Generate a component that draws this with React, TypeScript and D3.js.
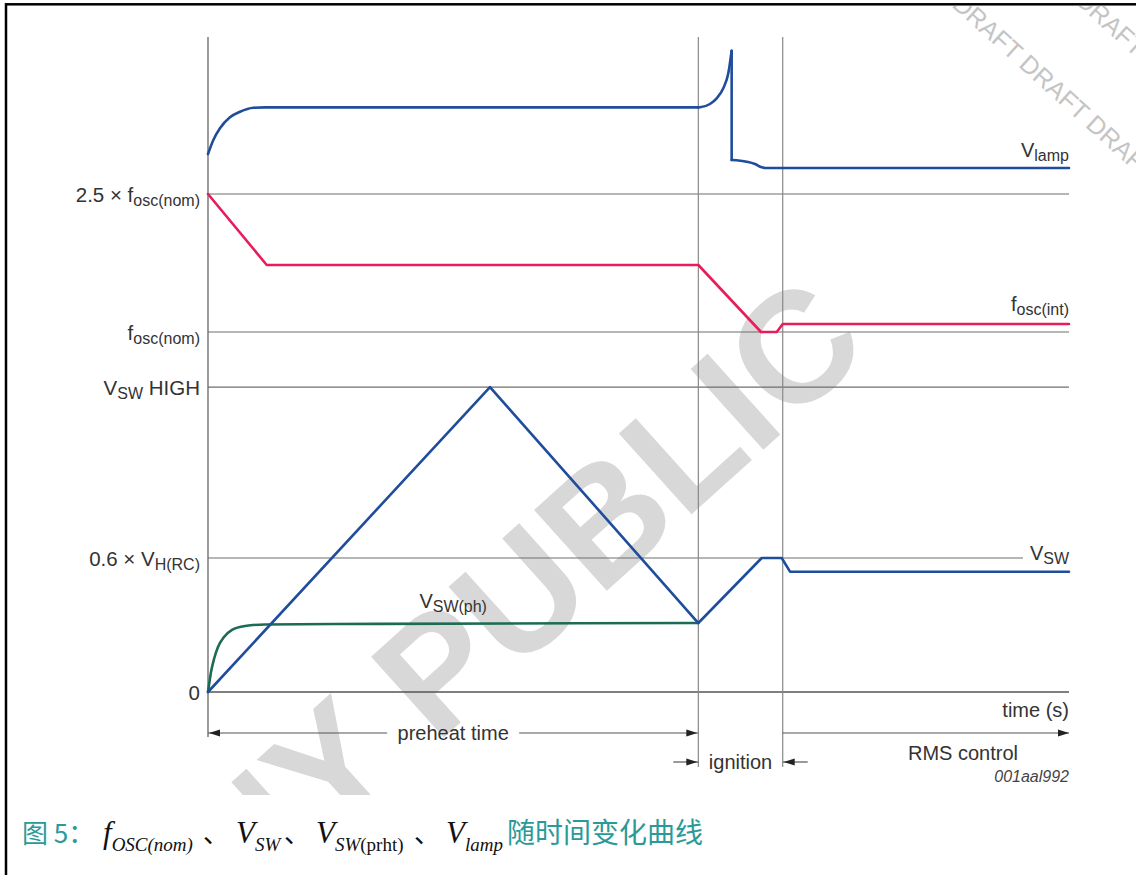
import React from 'react';
import * as d3 from 'd3';

type Pt = [number, number];

// time axis in arbitrary units: start, end of preheat, end of ignition, end
const phaseEdges = [0, 56.95, 66.75, 100];
const phaseNames = ['preheat time', 'ignition', 'RMS control'];

// horizontal reference levels (arbitrary units, 0 = time axis)
const refLevels = [76.03, 54.96, 46.56, 20.46, 0];
const refLabels: [string, string, string][] = [
  ['2.5 × f', 'osc(nom)', ''],
  ['f', 'osc(nom)', ''],
  ['V', 'SW', ' HIGH'],
  ['0.6 × V', 'H(RC)', ''],
  ['0', '', ''],
];

// V_lamp, split where it jumps
const vlampPreheat: Pt[] = [[0, 82.14], [0.62, 84.27], [1.39, 86.06], [2.55, 87.74], [3.72, 88.59], [5.26, 89.2], [6.62, 89.26], [56.95, 89.26]];
const vlampIgnite: Pt[] = [[56.95, 89.26], [57.14, 89.28], [58.3, 89.77], [59.08, 90.64], [59.85, 92.17], [60.43, 94.45], [60.82, 97.91]];
const vlampDrop: Pt[] = [[60.82, 97.91], [60.82, 81.22]];
const vlampRun: Pt[] = [[60.82, 81.22], [62.56, 80.96], [63.53, 80.61], [64.31, 80.1], [64.8, 80.0], [100, 80.0]];

const foscInt: Pt[] = [[0, 76.03], [6.82, 65.19], [56.95, 65.19], [64.23, 54.96], [66.05, 54.96], [66.75, 56.18], [100, 56.18]];
const vsw: Pt[] = [[0, 0], [32.75, 46.56], [56.95, 10.53], [64.31, 20.46], [66.63, 20.46], [67.6, 18.37], [100, 18.37]];
const vswPh: Pt[] = [[0, 0], [0.12, 1.07], [0.35, 3.05], [0.7, 5.04], [1.16, 6.87], [1.86, 8.4], [2.79, 9.47], [4.3, 10.08], [6.62, 10.31], [20, 10.4], [56.95, 10.53]];

const BLUE = '#1f4d9b';
const PINK = '#e81c5b';
const GREEN = '#1b6b55';
const GRID = '#6e6e6e';
const TEXT = '#333';
const TEAL = '#2a9a98';
const SANS = '"Liberation Sans", Arial, Helvetica, sans-serif';
const SERIF = '"Liberation Serif", "Times New Roman", serif';
const CJK = '"Noto Sans CJK SC", sans-serif';

const W = 1136;
const H = 875;

const x = d3.scaleLinear().domain([0, 100]).range([208, 1069]);
const y = d3.scaleLinear().domain([0, 100]).range([692, 37]);

const smooth = d3.line<Pt>().x(d => x(d[0])).y(d => y(d[1])).curve(d3.curveMonotoneX);
const straight = d3.line<Pt>().x(d => x(d[0])).y(d => y(d[1]));

// filled arrow head, tip at (tx, ty), dir +1 = pointing right
const arrow = (tx: number, ty: number, dir: number) => {
  const len = 11;
  const hw = 3.5;
  return `M${tx},${ty}L${tx - dir * len},${ty - hw}L${tx - dir * len},${ty + hw}Z`;
};

const Sub: React.FC<{ main: string; sub: string; tail?: string; size?: number; subSize?: number }> = ({ main, sub, tail, size = 20, subSize = 16 }) => (
  <>
    <tspan fontSize={size}>{main}</tspan>
    {sub && <tspan fontSize={subSize} dy={4}>{sub}</tspan>}
    {tail && <tspan fontSize={size} dy={sub ? -4 : 0}>{tail}</tspan>}
  </>
);

const App: React.FC = () => {
  const xs = phaseEdges.map(v => x(v));
  const xEnd = x(100);
  const lastY = (s: Pt[]) => y(s[s.length - 1][1]);

  const preheatY = 733;
  const ignY = 762;
  const preheatMid = (xs[0] + xs[1]) / 2;
  const gapHalf = 66;

  return (
    <svg width={W} height={H} style={{ position: 'absolute', left: 0, top: 0, background: '#fff' }}>
      <defs>
        <clipPath id="wm">
          <rect x={7} y={6} width={W - 7} height={789} />
        </clipPath>
      </defs>

      {/* watermarks */}
      <g clipPath="url(#wm)">
        <text
          transform="translate(873,351) rotate(-42)"
          textAnchor="end"
          fontFamily={SANS}
          fontWeight="bold"
          fontSize={158}
          fill="#d8d8d8"
        >
          COMPANY PUBLIC
        </text>
        <text transform="translate(951,6) rotate(42)" fontFamily={SANS} fontSize={25} fill="#c4c4c4">
          DRAFT DRAFT DRAFT DRAFT
        </text>
        <text transform="translate(1074,2) rotate(42)" fontFamily={SANS} fontSize={25} fill="#c4c4c4">
          DRAFT DRAFT DRAFT DRAFT
        </text>
      </g>

      {/* frame */}
      <rect x={6} y={4.3} width={W + 20} height={H + 20} fill="none" stroke="#000" strokeWidth={2.5} />

      {/* reference levels */}
      {refLevels.map((lv, i) => {
        const yy = y(lv);
        const isAxis = lv === 0;
        // the 0.6 x VH(RC) line stops before the V_SW label
        const x2 = i === 3 ? xEnd - 46 : xEnd;
        return (
          <line
            key={'lv' + i}
            x1={xs[0]}
            x2={x2}
            y1={yy}
            y2={yy}
            stroke={isAxis ? '#555' : GRID}
            strokeWidth={isAxis ? 1.7 : 1.2}
          />
        );
      })}

      {/* phase boundaries */}
      <line x1={xs[0]} x2={xs[0]} y1={y(100)} y2={preheatY + 4} stroke="#666" strokeWidth={1.3} />
      <line x1={xs[1]} x2={xs[1]} y1={y(100)} y2={ignY + 5} stroke="#888" strokeWidth={1.2} />
      <line x1={xs[2]} x2={xs[2]} y1={y(100)} y2={ignY + 5} stroke="#888" strokeWidth={1.2} />

      {/* level labels */}
      {refLabels.map((lb, i) => (
        <text key={'lb' + i} x={200} y={y(refLevels[i]) + 8} textAnchor="end" fontFamily={SANS} fill={TEXT}>
          <Sub main={lb[0]} sub={lb[1]} tail={lb[2]} size={20.5} />
        </text>
      ))}

      {/* curves */}
      <g fill="none" strokeWidth={2.6} strokeLinejoin="round" strokeLinecap="round">
        <path d={smooth(vswPh) || ''} stroke={GREEN} />
        <path d={straight(vsw) || ''} stroke={BLUE} />
        <path d={straight(foscInt) || ''} stroke={PINK} />
        <path d={smooth(vlampPreheat) || ''} stroke={BLUE} />
        <path d={smooth(vlampIgnite) || ''} stroke={BLUE} />
        <path d={straight(vlampDrop) || ''} stroke={BLUE} />
        <path d={smooth(vlampRun) || ''} stroke={BLUE} />
      </g>

      {/* series labels */}
      <text x={xEnd} y={lastY(vlampRun) - 11} textAnchor="end" fontFamily={SANS} fill={TEXT}>
        <Sub main="V" sub="lamp" />
      </text>
      <text x={xEnd} y={lastY(foscInt) - 13} textAnchor="end" fontFamily={SANS} fill={TEXT}>
        <Sub main="f" sub="osc(int)" />
      </text>
      <text x={xEnd} y={y(refLevels[3]) + 2} textAnchor="end" fontFamily={SANS} fill={TEXT}>
        <Sub main="V" sub="SW" />
      </text>
      <text x={preheatMid} y={y(vswPh[vswPh.length - 1][1]) - 15} textAnchor="middle" fontFamily={SANS} fill={TEXT}>
        <Sub main="V" sub="SW(ph)" />
      </text>
      <text x={xEnd} y={y(0) + 25} textAnchor="end" fontFamily={SANS} fontSize={20} fill={TEXT}>
        time (s)
      </text>

      {/* phase annotations */}
      <g stroke="#555" strokeWidth={1.2}>
        <line x1={xs[0]} x2={preheatMid - gapHalf} y1={preheatY} y2={preheatY} />
        <line x1={preheatMid + gapHalf} x2={xs[1]} y1={preheatY} y2={preheatY} />
        <line x1={xs[2]} x2={xEnd} y1={preheatY} y2={preheatY} />
        <line x1={xs[1] - 25} x2={xs[1]} y1={ignY} y2={ignY} />
        <line x1={xs[2]} x2={xs[2] + 25} y1={ignY} y2={ignY} />
      </g>
      <g fill="#222">
        <path d={arrow(xs[0] + 1, preheatY, -1)} />
        <path d={arrow(xs[1] - 1, preheatY, 1)} />
        <path d={arrow(xEnd, preheatY, 1)} />
        <path d={arrow(xs[1] - 1, ignY, 1)} />
        <path d={arrow(xs[2] + 1, ignY, -1)} />
      </g>
      <text x={preheatMid} y={preheatY + 7} textAnchor="middle" fontFamily={SANS} fontSize={20} fill={TEXT}>
        {phaseNames[0]}
      </text>
      <text x={(xs[1] + xs[2]) / 2} y={ignY + 7} textAnchor="middle" fontFamily={SANS} fontSize={20} fill={TEXT}>
        {phaseNames[1]}
      </text>
      <text x={xEnd - 106} y={preheatY + 27} textAnchor="middle" fontFamily={SANS} fontSize={20} fill={TEXT}>
        {phaseNames[2]}
      </text>
      <text x={xEnd} y={782} textAnchor="end" fontFamily={SANS} fontStyle="italic" fontSize={16} fill="#444">
        001aal992
      </text>

      {/* caption */}
      <text y={843} fill="#111">
        <tspan x={22} fontFamily={CJK} fontSize={26} fill={TEAL}>图 5：</tspan>
        <tspan x={103} fontFamily={SERIF} fontStyle="italic" fontSize={31}>f</tspan>
        <tspan y={851} fontFamily={SERIF} fontStyle="italic" fontSize={19}>OSC(nom)</tspan>
        <tspan x={203} y={843} fontFamily={CJK} fontSize={26}>、</tspan>
        <tspan x={236} fontFamily={SERIF} fontStyle="italic" fontSize={31}>V</tspan>
        <tspan y={851} fontFamily={SERIF} fontStyle="italic" fontSize={19}>SW</tspan>
        <tspan x={284} y={843} fontFamily={CJK} fontSize={26}>、</tspan>
        <tspan x={316} fontFamily={SERIF} fontStyle="italic" fontSize={31}>V</tspan>
        <tspan y={851} fontFamily={SERIF} fontStyle="italic" fontSize={19}>SW</tspan>
        <tspan fontFamily={SERIF} fontSize={19}>(prht)</tspan>
        <tspan x={414} y={843} fontFamily={CJK} fontSize={26}>、</tspan>
        <tspan x={446} fontFamily={SERIF} fontStyle="italic" fontSize={31}>V</tspan>
        <tspan y={851} fontFamily={SERIF} fontStyle="italic" fontSize={19}>lamp</tspan>
        <tspan x={507} y={843} fontFamily={CJK} fontSize={28} fill={TEAL}>随时间变化曲线</tspan>
      </text>
    </svg>
  );
};

export default App;
